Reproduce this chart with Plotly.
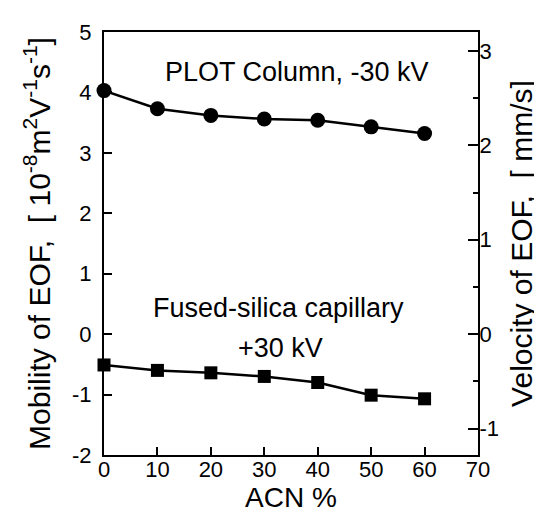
import plotly.graph_objects as go

acn = [0, 10, 20, 30, 40, 50, 60]
plot_column = [4.03, 3.73, 3.62, 3.56, 3.54, 3.43, 3.32]
fused_silica = [-0.51, -0.60, -0.64, -0.70, -0.80, -1.01, -1.07]

x_ticks = [0, 10, 20, 30, 40, 50, 60, 70]
left_ticks = [-2, -1, 0, 1, 2, 3, 4, 5]
right_ticks = [-1, 0, 1, 2, 3]

FONT = "Liberation Sans, Arial, Helvetica, sans-serif"
# velocity axis: 1 mm/s corresponds to ~1.5625 mobility units
ratio = 1.5625


def labels(vals):
    # plain hyphen minus like the original figure
    return [str(v) for v in vals]


fig = go.Figure()

fig.add_trace(go.Scatter(
    x=acn, y=plot_column, mode='lines+markers',
    line=dict(color='black', width=2.5),
    marker=dict(symbol='circle', size=15, color='black'),
    showlegend=False, cliponaxis=False,
))
fig.add_trace(go.Scatter(
    x=acn, y=fused_silica, mode='lines+markers',
    line=dict(color='black', width=2.5),
    marker=dict(symbol='square', size=13, color='black'),
    showlegend=False, cliponaxis=False,
))
# invisible trace to activate the right axis
fig.add_trace(go.Scatter(x=[0], y=[0], yaxis='y2', mode='markers',
                         marker=dict(opacity=0), showlegend=False,
                         hoverinfo='skip'))

ann_font = dict(size=27, color='black', family=FONT)
fig.add_annotation(x=36.2, y=4.33, text="PLOT Column, -30 kV", showarrow=False,
                   font=ann_font)
fig.add_annotation(x=32.7, y=0.44, text="Fused-silica capillary", showarrow=False,
                   font=ann_font)
fig.add_annotation(x=33, y=-0.23, text="+30 kV", showarrow=False,
                   font=ann_font)

fig.update_layout(
    width=542, height=513,
    margin=dict(l=96, r=72, t=20, b=66),
    paper_bgcolor='white', plot_bgcolor='white',
    font=dict(family=FONT, color='black', size=22),
    xaxis=dict(
        range=[0, 70], tickvals=x_ticks, ticktext=labels(x_ticks),
        ticks='inside', ticklen=8, tickwidth=1.5, tickcolor='black',
        ticklabelstandoff=-6,
        showline=True, linecolor='black', linewidth=2, mirror=True,
        showgrid=False, zeroline=False,
        tickfont=dict(size=22),
        title=dict(text="ACN %", font=dict(size=28), standoff=0),
    ),
    yaxis=dict(
        range=[-2, 5], tickvals=left_ticks, ticktext=labels(left_ticks),
        ticks='inside', ticklen=8, tickwidth=1.5, tickcolor='black',
        ticklabelstandoff=6,
        showline=True, linecolor='black', linewidth=2, mirror=True,
        showgrid=False, zeroline=False,
        tickfont=dict(size=22),
        title=dict(text="Mobility of EOF,  [ 10<sup>-8</sup>m<sup>2</sup>V<sup>-1</sup>s<sup>-1</sup>]",
                   font=dict(size=30), standoff=13),
    ),
    yaxis2=dict(
        overlaying='y', side='right',
        range=[-2 / ratio, 5 / ratio], tickvals=right_ticks,
        ticktext=labels(right_ticks),
        ticks='inside', ticklen=10, tickwidth=1.5, tickcolor='black',
        ticklabelstandoff=-5,
        minor=dict(ticks='inside', dtick=0.5, ticklen=5, tickwidth=1.5,
                   tickcolor='black'),
        showline=True, linecolor='black', linewidth=2,
        showgrid=False, zeroline=False,
        tickfont=dict(size=22),
        title=dict(text="Velocity of EOF,  [ mm/s]", font=dict(size=30),
                   standoff=13),
    ),
)

fig.write_html("out.html")
